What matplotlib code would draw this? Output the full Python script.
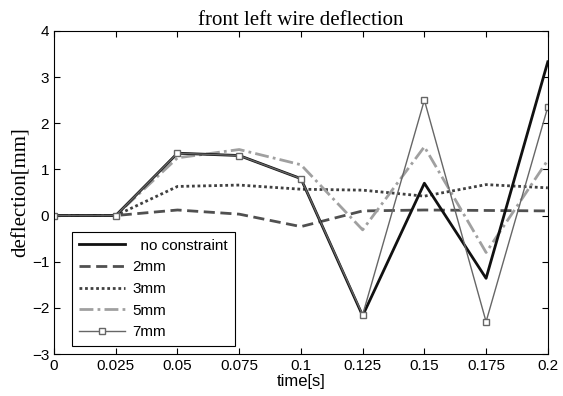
import matplotlib
matplotlib.use("Agg")
import matplotlib.pyplot as plt

# ------------------------------------------------------------
# data
# ------------------------------------------------------------
time_s = [0, 0.025, 0.05, 0.075, 0.1, 0.125, 0.15, 0.175, 0.2]

no_constraint = [0, 0, 1.35, 1.30, 0.80, -2.17, 0.70, -1.36, 3.33]
mm2 = [0, 0, 0.12, 0.03, -0.24, 0.10, 0.12, 0.11, 0.10]
mm3 = [0, 0, 0.63, 0.66, 0.57, 0.55, 0.42, 0.67, 0.60]
mm5 = [0, 0, 1.25, 1.43, 1.10, -0.31, 1.49, -0.80, 1.20]
mm7 = [0, 0, 1.35, 1.30, 0.80, -2.15, 2.50, -2.30, 2.35]

x_ticks = [0, 0.025, 0.05, 0.075, 0.1, 0.125, 0.15, 0.175, 0.2]
x_tick_labels = ["0", "0.025", "0.05", "0.075", "0.1", "0.125", "0.15", "0.175", "0.2"]
y_ticks = [-3, -2, -1, 0, 1, 2, 3, 4]

# ------------------------------------------------------------
# figure
# ------------------------------------------------------------
fig = plt.figure(figsize=(5.63, 3.96), dpi=100)
ax = fig.add_axes([0.096, 0.106, 0.877, 0.816])

ax.plot(time_s, mm2, color="#505050", lw=2.0, ls=(0, (4, 2)), label="2mm")
ax.plot(time_s, mm3, color="#404040", lw=2.0, ls=(0, (1, 1)), label="3mm")
ax.plot(time_s, mm5, color="#a0a0a0", lw=2.0, ls=(0, (5, 1.5, 1, 1.5)), label="5mm")
ax.plot(time_s, no_constraint, color="#111111", lw=2.0, label="  no constraint")
ax.plot(time_s, mm7, color="#666666", lw=1.0, marker="s", ms=5,
        mfc="white", mec="#666666", mew=1.0, label="7mm")

ax.set_xlim(0, 0.2)
ax.set_ylim(-3, 4)
ax.set_xticks(x_ticks)
ax.set_xticklabels(x_tick_labels)
ax.set_yticks(y_ticks)
ax.tick_params(direction="in", top=True, right=True, length=4, width=0.8,
               labelsize=11)
for lab in ax.get_xticklabels() + ax.get_yticklabels():
    lab.set_family("Liberation Sans")
for sp in ax.spines.values():
    sp.set_linewidth(0.8)

ax.set_title("front left wire deflection", family="Liberation Serif",
             fontsize=15, pad=4)
ax.set_ylabel("deflection[mm]", family="Liberation Serif", fontsize=15,
              labelpad=1)
ax.set_xlabel("time[s]", family="Liberation Sans", fontsize=12, labelpad=1)

handles, labels = ax.get_legend_handles_labels()
order = [3, 0, 1, 2, 4]
leg = ax.legend([handles[i] for i in order], [labels[i] for i in order],
                loc="upper left", bbox_to_anchor=(0.036, 0.378),
                prop={"family": "Liberation Sans", "size": 11},
                fancybox=False, framealpha=1, edgecolor="black",
                handlelength=3.0, borderpad=0.45, labelspacing=0.5,
                handletextpad=0.5, borderaxespad=0)
leg.get_frame().set_linewidth(0.8)

fig.savefig("out.png", dpi=100)
